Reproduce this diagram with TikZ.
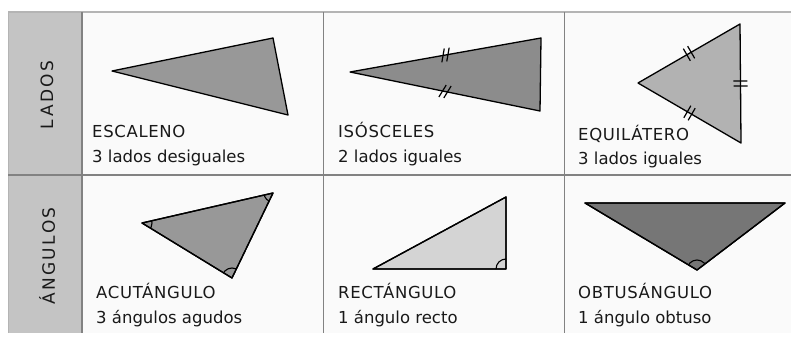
\documentclass[tikz,border=0pt]{standalone}
\usepackage{fontspec}
\setmainfont{DejaVu Sans}
\usetikzlibrary{calc}
\definecolor{hdr}{RGB}{196,196,196}
\definecolor{cellbg}{RGB}{250,250,250}
\definecolor{gridc}{RGB}{130,130,130}
\definecolor{txt}{RGB}{25,25,25}
\tikzset{
  lbl/.style={anchor=base west, inner sep=0pt, text=txt, font=\fontsize{16.5}{18}\selectfont\addfontfeature{LetterSpace=4}},
  sub/.style={anchor=base west, inner sep=0pt, text=txt, font=\fontsize{16.5}{18}\selectfont},
  vhead/.style={rotate=90, inner sep=0pt, text=black!90, font=\fontsize{17}{18}\selectfont\addfontfeature{LetterSpace=14}},
  tri/.style={draw=black, line width=1.3pt, line join=round},
  tick/.style={draw=black, line width=1.2pt},
  angmark/.style={draw=black, line width=1.1pt},
}
\newcommand\dblmark[3]{% #1=start, #2=end, #3=tilt angle
  \coordinate (mm) at ($(#1)!0.5!(#2)$);
  \coordinate (m1) at ($(mm)!2.5pt!(#2)$);
  \coordinate (m2) at ($(mm)!-2.5pt!(#2)$);
  \draw[tick] ($(m1)!7pt!#3:(#2)$) -- ($(m1)!7pt!#3+180:(#2)$);
  \draw[tick] ($(m2)!7pt!#3:(m1)$) -- ($(m2)!7pt!#3+180:(m1)$);
}
\begin{document}
\begin{tikzpicture}[x=1pt,y=-1pt]
\useasboundingbox (0,0) rectangle (791,337);
\fill[white] (0,0) rectangle (791,337);
% table
\fill[cellbg] (82,12) rectangle (791,333);
\fill[hdr] (8,12) rectangle (82,333);
\draw[gridc!60, line width=1.5pt] (8,12) -- (791,12);
\draw[gridc!60, line width=1pt] (8,12) -- (8,333);
\draw[gridc, line width=1.3pt] (82,12) -- (82,333);
\draw[gridc, line width=1.2pt] (8,175) -- (791,175);
\draw[gridc, line width=1pt] (323,12) -- (323,333);
\draw[gridc, line width=1pt] (564,12) -- (564,333);
% headers
\node[vhead] (hl) at (47,95) {LADOS};
\node[vhead] (ha) at (47,256) {ÁNGULOS};
% escaleno
\coordinate (e1) at (112,71); \coordinate (e2) at (273,38); \coordinate (e3) at (288,115);
\draw[tri, fill={rgb,255:red,152;green,152;blue,152}] (e1) -- (e2) -- (e3) -- cycle;
% isosceles
\coordinate (i1) at (350,72); \coordinate (i2) at (541,38); \coordinate (i3) at (540,111);
\draw[tri, fill={rgb,255:red,140;green,140;blue,140}] (i1) -- (i2) -- (i3) -- cycle;
\dblmark{i1}{i2}{70}
\dblmark{i1}{i3}{70}
% equilatero
\coordinate (q1) at (638,83); \coordinate (q2) at (740,24); \coordinate (q3) at (741,143);
\draw[tri, fill={rgb,255:red,178;green,178;blue,178}] (q1) -- (q2) -- (q3) -- cycle;
\dblmark{q1}{q2}{90}
\dblmark{q1}{q3}{90}
\dblmark{q2}{q3}{90}
% acutangulo
\coordinate (a1) at (142,223); \coordinate (a2) at (273,193); \coordinate (a3) at (232,278);
\draw[tri, fill={rgb,255:red,152;green,152;blue,152}] (a1) -- (a2) -- (a3) -- cycle;
\begin{scope}
  \clip (a1) -- (a2) -- (a3) -- cycle;
  \draw[angmark] (a1) circle (10);
  \draw[angmark] (a2) circle (9);
  \draw[angmark] (a3) circle (10);
\end{scope}
\draw[tri] (a1) -- (a2) -- (a3) -- cycle;
% rectangulo
\coordinate (r1) at (373,269); \coordinate (r2) at (506,197); \coordinate (r3) at (506,269);
\draw[tri, fill={rgb,255:red,212;green,212;blue,212}] (r1) -- (r2) -- (r3) -- cycle;
\begin{scope}
  \clip (r1) -- (r2) -- (r3) -- cycle;
  \draw[angmark] (r3) circle (10);
\end{scope}
\draw[tri] (r1) -- (r2) -- (r3) -- cycle;
% obtusangulo
\coordinate (o1) at (585,203); \coordinate (o2) at (785,203); \coordinate (o3) at (697,270);
\draw[tri, fill={rgb,255:red,118;green,118;blue,118}] (o1) -- (o2) -- (o3) -- cycle;
\begin{scope}
  \clip (o1) -- (o2) -- (o3) -- cycle;
  \draw[angmark] (o3) circle (10);
\end{scope}
\draw[tri] (o1) -- (o2) -- (o3) -- cycle;
% labels
\node[lbl] (t1) at (92,137) {ESCALENO};
\node[sub] (s1) at (92,162) {3 lados desiguales};
\node[lbl] (t2) at (338,137) {ISÓSCELES};
\node[sub] (s2) at (338,162) {2 lados iguales};
\node[lbl] (t3) at (578,140) {EQUILÁTERO};
\node[sub] (s3) at (578,164) {3 lados iguales};
\node[lbl] (t4) at (96,298) {ACUTÁNGULO};
\node[sub] (s4) at (96,323) {3 ángulos agudos};
\node[lbl] (t5) at (338,298) {RECTÁNGULO};
\node[sub] (s5) at (338,323) {1 ángulo recto};
\node[lbl] (t6) at (578,298) {OBTUSÁNGULO};
\node[sub] (s6) at (578,323) {1 ángulo obtuso};
\end{tikzpicture}
\end{document}
